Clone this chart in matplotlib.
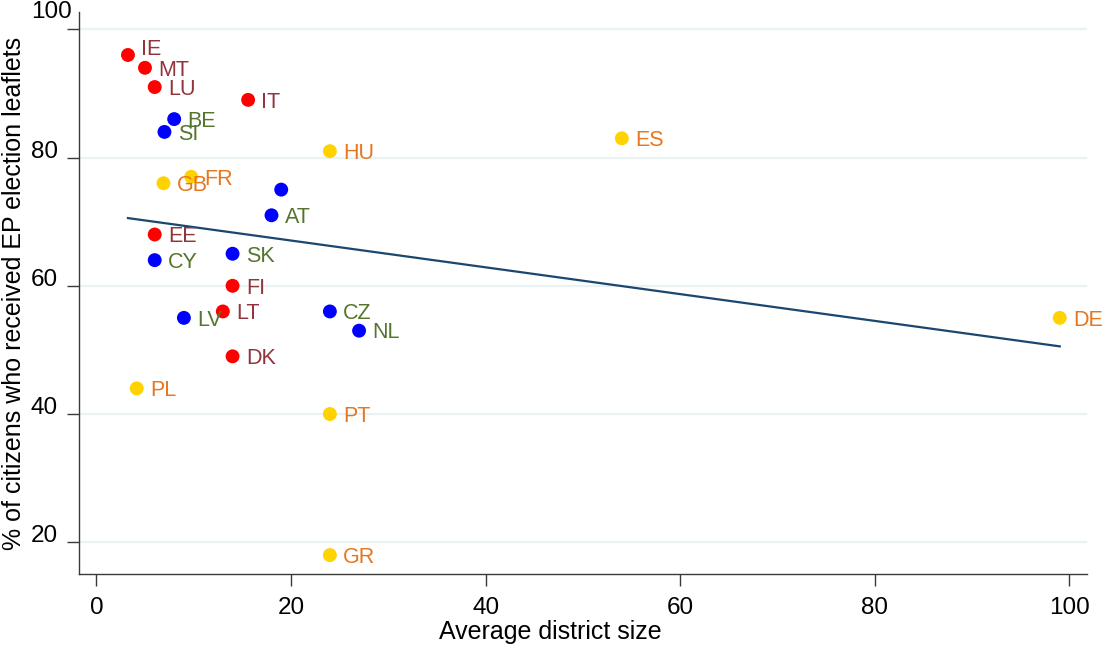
import numpy as np
import matplotlib
matplotlib.use("Agg")
import matplotlib.pyplot as plt

plt.rcParams['font.family'] = ['Liberation Sans', 'DejaVu Sans']

# ---- data ----
countries = ["IE", "MT", "LU", "IT", "BE", "SI", "HU", "ES", "FR", "GB", "", "AT",
             "EE", "CY", "SK", "FI", "LT", "LV", "CZ", "NL", "DK", "PL", "PT", "GR", "DE"]
district_size = [3.25, 5.0, 6.0, 15.6, 8.0, 7.0, 24.0, 54.0, 9.75, 6.9, 19.0, 18.0,
                 6.0, 6.0, 14.0, 14.0, 13.0, 9.0, 24.0, 27.0, 14.0, 4.15, 24.0, 24.0, 99.0]
pct_leaflets = [96, 94, 91, 89, 86, 84, 81, 83, 77, 76, 75, 71,
                68, 64, 65, 60, 56, 55, 56, 53, 49, 44, 40, 18, 55]
group = ["r", "r", "r", "r", "b", "b", "y", "y", "y", "y", "b", "b",
         "r", "b", "b", "r", "r", "b", "b", "b", "r", "y", "y", "y", "y"]
x_ticks = [0, 20, 40, 60, 80, 100]
y_ticks = [20, 40, 60, 80, 100]

marker_colors = {"r": "#FF0000", "b": "#0000FF", "y": "#FFD200"}
label_colors = {"r": "#90353B", "b": "#55752F", "y": "#E8761E"}
label_vshift = {"IE": 5.6}  # IE label sits at 2 o'clock

TICK_FS = 17.5
TITLE_FS = 18
LABEL_FS = 15.5

fig = plt.figure(figsize=(11.02, 6.48), dpi=100)
ax = fig.add_axes([79 / 1102, 74 / 648, (1087 - 79) / 1102, (636.3 - 74) / 648])

ax.set_xlim(-1.78, 101.8)
ax.set_ylim(15.05, 102.75)

ax.set_yticks(y_ticks)
ax.set_xticks(x_ticks)
ax.set_yticklabels(["" if v == 100 else str(v) for v in y_ticks])
ax.set_xticklabels([str(v) for v in x_ticks])
ax.grid(axis='y', color='#EAF2F3', lw=1.6, zorder=0)
ax.grid(axis='x', visible=False)
ax.set_axisbelow(True)

for s in ["top", "right"]:
    ax.spines[s].set_visible(False)
for s in ["left", "bottom"]:
    ax.spines[s].set_color("#3a3a3a")
    ax.spines[s].set_linewidth(1.0)

ax.tick_params(axis='both', direction='out', length=8.3, width=1.0, color='#3a3a3a',
               labelsize=TICK_FS, labelcolor='black')
ax.tick_params(axis='y', pad=7)
ax.tick_params(axis='x', pad=8)
for t in ax.get_yticklabels():
    t.set_verticalalignment('baseline')

ax.annotate("100", xy=(0, 100), xycoords=('axes fraction', 'data'),
            xytext=(-5, 8), textcoords='offset points', ha='right', va='baseline',
            fontsize=TICK_FS, color='black', annotation_clip=False)

# scatter
for g in ["r", "b", "y"]:
    xs = [x for x, gg in zip(district_size, group) if gg == g]
    ys = [y for y, gg in zip(pct_leaflets, group) if gg == g]
    ax.scatter(xs, ys, s=100, color=marker_colors[g], edgecolors='none', zorder=3)

for c, x, y, g in zip(countries, district_size, pct_leaflets, group):
    if c:
        ax.annotate(c, (x, y), xytext=(9.5, -5.6 + label_vshift.get(c, 0)),
                    textcoords='offset points', ha='left', va='baseline',
                    fontsize=LABEL_FS, color=label_colors[g], zorder=4)

# linear fit
coef = np.polyfit(district_size, pct_leaflets, 1)
xl = np.array([min(district_size), max(district_size)])
ax.plot(xl, np.polyval(coef, xl), color='#1A476F', lw=1.6, zorder=2)

fig.text(14 / 1102, 1 - 293 / 648, "% of citizens who received EP election leaflets",
         rotation=90, ha='center', va='center', fontsize=TITLE_FS)
fig.text(550 / 1102, (648 - 639) / 648, "Average district size",
         ha='center', va='baseline', fontsize=TITLE_FS)

fig.savefig("out.png", dpi=100)
